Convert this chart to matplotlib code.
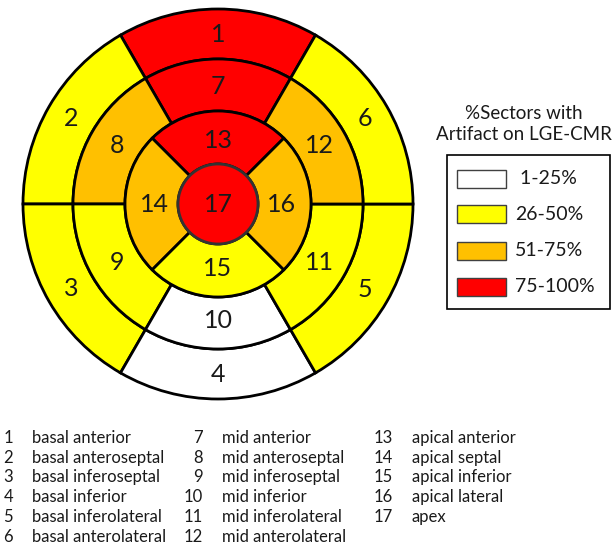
import numpy as np
import matplotlib.pyplot as plt
from matplotlib.patches import Wedge, Circle, Rectangle

plt.rcParams['font.family'] = ['Lato', 'DejaVu Sans']

# Segment data (AHA 17-segment model)
seg_ids = list(range(1, 18))
seg_names = ['basal anterior', 'basal anteroseptal', 'basal inferoseptal', 'basal inferior',
             'basal inferolateral', 'basal anterolateral',
             'mid anterior', 'mid anteroseptal', 'mid inferoseptal', 'mid inferior',
             'mid inferolateral', 'mid anterolateral',
             'apical anterior', 'apical septal', 'apical inferior', 'apical lateral', 'apex']
# artifact category per segment: 0 = 1-25%, 1 = 26-50%, 2 = 51-75%, 3 = 75-100%
seg_cat = [3, 1, 1, 0, 1, 1,
           3, 2, 1, 0, 1, 2,
           3, 2, 1, 2, 3]

cat_labels = [' 1-25%', '26-50%', '51-75%', '75-100%']
cat_colors = ['#FFFFFF', '#FFFF00', '#FFC000', '#FF0000']
legend_title = '%Sectors with\nArtifact on LGE-CMR'

# geometry in pixel units
cx, cy = 218, 204
r_basal = (145, 195)
r_mid = (93, 145)
r_apex = 40
txt_col = '#1a1a1a'

fig = plt.figure(figsize=(6.16, 5.52), dpi=100)
ax = fig.add_axes([0, 0, 1, 1])
ax.set_xlim(0, 616)
ax.set_ylim(552, 0)
ax.axis('off')

def draw_seg(r_in, r_out, phi, span, color, label, r_lab):
    # phi is the screen angle (counter-clockwise); y axis is inverted
    w = Wedge((cx, cy), r_out, -(phi + span / 2), -(phi - span / 2), width=r_out - r_in,
              facecolor=color, edgecolor='black', lw=2)
    ax.add_patch(w)
    a = np.deg2rad(phi)
    ax.text(cx + r_lab * np.cos(a), cy - r_lab * np.sin(a), str(label),
            ha='center', va='center', fontsize=18, color=txt_col)

for i in range(6):
    phi = 90 + 60 * i
    draw_seg(r_basal[0], r_basal[1], phi, 60, cat_colors[seg_cat[i]], seg_ids[i], 170)
    draw_seg(r_mid[0], r_mid[1], phi, 60, cat_colors[seg_cat[6 + i]], seg_ids[6 + i], 117)
for k in range(4):
    phi = 90 + 90 * k
    draw_seg(r_apex, r_mid[0], phi, 90, cat_colors[seg_cat[12 + k]], seg_ids[12 + k], 64)

ax.add_patch(Circle((cx, cy), r_apex, facecolor=cat_colors[seg_cat[16]], edgecolor='#333333', lw=2, zorder=3))
ax.text(cx, cy, str(seg_ids[16]), ha='center', va='center', fontsize=18, color=txt_col, zorder=4)

# legend
ax.text(524, 124, legend_title, ha='center', va='center', fontsize=13.5, color=txt_col, linespacing=1.3)
ax.add_patch(Rectangle((447, 155), 163, 154, facecolor='white', edgecolor='black', lw=1.2))
sw_y = [179, 214, 251, 287]
for lab, col, y in zip(cat_labels, cat_colors, sw_y):
    ax.add_patch(Rectangle((457, y - 9), 49, 18, facecolor=col, edgecolor='#404040', lw=1))
    ax.text(515, y, lab, ha='left', va='center', fontsize=14, color=txt_col)

# segment list
row_y = [438, 458, 477, 497, 517, 537]
col_num_x = [13, 203, 393]
col_name_x = [32, 222, 412]
for idx, (sid, name) in enumerate(zip(seg_ids, seg_names)):
    c, r = divmod(idx, 6)
    ax.text(col_num_x[c], row_y[r], str(sid), ha='right', va='center', fontsize=12, color=txt_col)
    ax.text(col_name_x[c], row_y[r], name, ha='left', va='center', fontsize=12, color=txt_col)

fig.savefig('out.png', dpi=100)
